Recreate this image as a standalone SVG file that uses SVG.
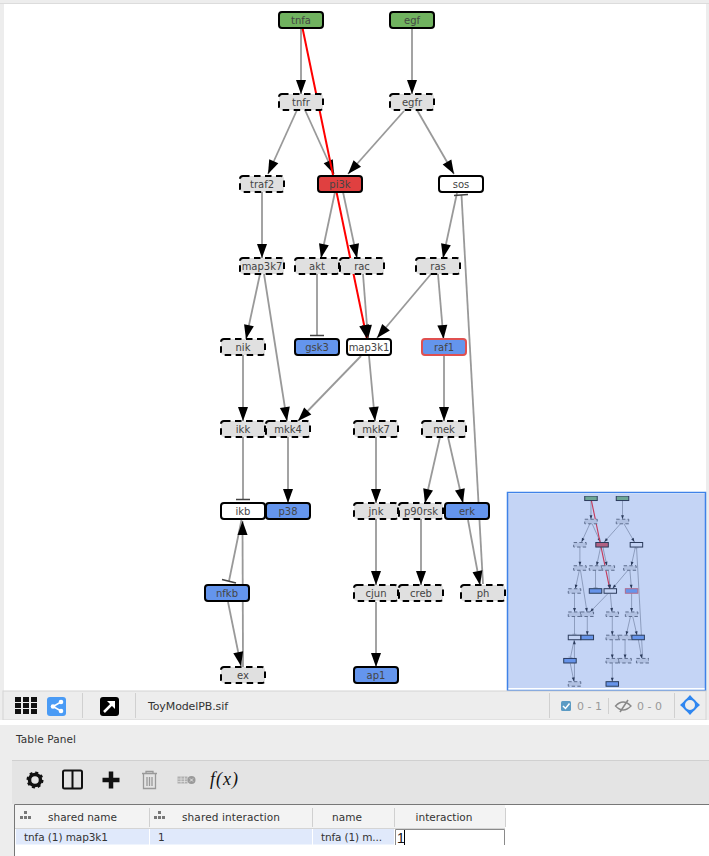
<svg xmlns="http://www.w3.org/2000/svg" xmlns:xlink="http://www.w3.org/1999/xlink" width="709" height="856" viewBox="0 0 709 856">
<style>
text{font-family:"DejaVu Sans","Liberation Sans",sans-serif}
.n{stroke:#000;stroke-width:2;}
.g{fill:#70b25f}.r{fill:#e04040}.b{fill:#6495ed}.w{fill:#fff}
.d{fill:#e0e0e0;stroke:#000;stroke-width:2;stroke-dasharray:6.500 4.500}
.rf{fill:#6495ed;stroke:#e05050;stroke-width:2}
.t{font-size:10px;fill:#444;text-anchor:middle}
.e{stroke:#999;stroke-width:var(--ew,1.800);fill:none}
.a{marker-end:url(#arr)}
.red{stroke:#f00;stroke-width:var(--rw,2);fill:none;marker-end:url(#arr)}
.bar{stroke:#444;stroke-width:1.500}
.ui{font-size:10.500px;fill:#333}
.c{text-anchor:middle}
.gr{font-size:11px;fill:#999}
.sep{stroke:#d0d0d0;stroke-width:1}
#mini .n,#mini .d,#mini .rf{stroke-width:3.500}
#mini .d{stroke-dasharray:12 8;stroke:#555}
</style>
<defs>
<marker id="arr" markerUnits="userSpaceOnUse" markerWidth="14" markerHeight="10" viewBox="0 0 14 10" refX="14" refY="5" orient="auto" overflow="visible"><path d="M0 0L14 5L0 10Z" fill="#000"/></marker>
<filter id="soft" x="0" y="0" width="1" height="1"><feGaussianBlur stdDeviation="0.3"/></filter>
</defs>
<rect width="709" height="856" fill="#ededed"/>
<rect x="4" y="4" width="702" height="687" fill="#fff"/>
<path d="M0 3.500H709" stroke="#dcdcdc"/>
<g id="connectors">
<path class="e a" d="M301 28V94"/>
<path class="e a" d="M412 28V94"/>
<path class="e a" d="M297 110L268 174"/>
<path class="e a" d="M305 110L334 174"/>
<path class="e a" d="M404 111L348 174"/>
<path class="e a" d="M417 110L454 174"/>
<path class="e a" d="M262 192V258"/>
<path class="e a" d="M335 192L321 258"/>
<path class="e a" d="M343 192L357 258"/>
<path class="e a" d="M457 193L443 258"/>
<path class="e" d="M483 584L461.500 195"/>
<path class="bar" d="M454 195.500L468 194.500"/>
<path class="e a" d="M260 274L246 339"/>
<path class="e a" d="M264 274L287 421"/>
<path class="e" d="M317 274V336"/>
<path class="bar" d="M310 335.500H324"/>
<path class="e a" d="M363 274L368 339"/>
<path class="e a" d="M431 274L377 338"/>
<path class="e a" d="M438 274L443.500 339"/>
<path class="e a" d="M243 355V421"/>
<path class="e a" d="M361 356L298 421"/>
<path class="e a" d="M369 356L375 421"/>
<path class="e a" d="M444 355V421"/>
<path class="e" d="M243 437V500"/>
<path class="bar" d="M236 499.500H250"/>
<path class="e a" d="M288 437V503"/>
<path class="e a" d="M376 437V503"/>
<path class="e a" d="M440 437L425 503"/>
<path class="e a" d="M448 437L463 503"/>
<path class="e a" d="M376 519V585"/>
<path class="e a" d="M421 519V585"/>
<path class="e a" d="M468 520L480 585"/>
<path class="e" d="M241.500 520L229 581"/>
<path class="bar" d="M222 579.500L236 583"/>
<path class="e a" d="M243 667L242.500 521"/>
<path class="e a" d="M228 602L241 666"/>
<path class="e a" d="M376 602V667"/>
<path class="red" d="M302.500 28L367 339"/>
</g>
<g id="node-tnfa"><rect class="n g" x="279" y="12" width="44" height="16" rx="3"/><text class="t" x="301" y="23.500">tnfa</text></g>
<g id="node-egf"><rect class="n g" x="390" y="12" width="44" height="16" rx="3"/><text class="t" x="412" y="23.500">egf</text></g>
<g id="node-tnfr"><rect class="d" x="279" y="94" width="44" height="16" rx="3"/><text class="t" x="301" y="105.500">tnfr</text></g>
<g id="node-egfr"><rect class="d" x="390" y="94" width="44" height="16" rx="3"/><text class="t" x="412" y="105.500">egfr</text></g>
<g id="node-traf2"><rect class="d" x="240" y="176" width="44" height="16" rx="3"/><text class="t" x="262" y="187.500">traf2</text></g>
<g id="node-pi3k"><rect class="n r" x="318" y="176" width="44" height="16" rx="3"/><text class="t" x="340" y="187.500">pi3k</text></g>
<g id="node-sos"><rect class="n w" x="439" y="176" width="44" height="16" rx="3"/><text class="t" x="461" y="187.500">sos</text></g>
<g id="node-map3k7"><rect class="d" x="240" y="258" width="44" height="16" rx="3"/><text class="t" x="262" y="269.500">map3k7</text></g>
<g id="node-akt"><rect class="d" x="295" y="258" width="44" height="16" rx="3"/><text class="t" x="317" y="269.500">akt</text></g>
<g id="node-rac"><rect class="d" x="340" y="258" width="44" height="16" rx="3"/><text class="t" x="362" y="269.500">rac</text></g>
<g id="node-ras"><rect class="d" x="416" y="258" width="44" height="16" rx="3"/><text class="t" x="438" y="269.500">ras</text></g>
<g id="node-nik"><rect class="d" x="221" y="339" width="44" height="16" rx="3"/><text class="t" x="243" y="350.500">nik</text></g>
<g id="node-gsk3"><rect class="n b" x="295" y="339" width="44" height="16" rx="3"/><text class="t" x="317" y="350.500">gsk3</text></g>
<g id="node-map3k1"><rect class="n w" x="347" y="339" width="44" height="16" rx="3"/><text class="t" x="369" y="350.500">map3k1</text></g>
<g id="node-raf1"><rect class="rf" x="422" y="339" width="44" height="16" rx="3"/><text class="t" x="444" y="350.500">raf1</text></g>
<g id="node-ikk"><rect class="d" x="221" y="421" width="44" height="16" rx="3"/><text class="t" x="243" y="432.500">ikk</text></g>
<g id="node-mkk4"><rect class="d" x="266" y="421" width="44" height="16" rx="3"/><text class="t" x="288" y="432.500">mkk4</text></g>
<g id="node-mkk7"><rect class="d" x="354" y="421" width="44" height="16" rx="3"/><text class="t" x="376" y="432.500">mkk7</text></g>
<g id="node-mek"><rect class="d" x="422" y="421" width="44" height="16" rx="3"/><text class="t" x="444" y="432.500">mek</text></g>
<g id="node-ikb"><rect class="n w" x="221" y="503" width="44" height="16" rx="3"/><text class="t" x="243" y="514.500">ikb</text></g>
<g id="node-p38"><rect class="n b" x="266" y="503" width="44" height="16" rx="3"/><text class="t" x="288" y="514.500">p38</text></g>
<g id="node-jnk"><rect class="d" x="354" y="503" width="44" height="16" rx="3"/><text class="t" x="376" y="514.500">jnk</text></g>
<g id="node-p90rsk"><rect class="d" x="399" y="503" width="44" height="16" rx="3"/><text class="t" x="421" y="514.500">p90rsk</text></g>
<g id="node-erk"><rect class="n b" x="445" y="503" width="44" height="16" rx="3"/><text class="t" x="467" y="514.500">erk</text></g>
<g id="node-nfkb"><rect class="n b" x="205" y="585" width="44" height="16" rx="3"/><text class="t" x="227" y="596.500">nfkb</text></g>
<g id="node-cjun"><rect class="d" x="354" y="585" width="44" height="16" rx="3"/><text class="t" x="376" y="596.500">cjun</text></g>
<g id="node-creb"><rect class="d" x="399" y="585" width="44" height="16" rx="3"/><text class="t" x="421" y="596.500">creb</text></g>
<g id="node-ph"><rect class="d" x="461" y="585" width="44" height="16" rx="3"/><text class="t" x="483" y="596.500">ph</text></g>
<g id="node-ex"><rect class="d" x="221" y="667" width="44" height="16" rx="3"/><text class="t" x="243" y="678.500">ex</text></g>
<g id="node-ap1"><rect class="n b" x="354" y="667" width="44" height="16" rx="3"/><text class="t" x="376" y="678.500">ap1</text></g>
<g id="minimap">
<rect x="507.500" y="492.500" width="198" height="198" fill="#fff"/>
<g id="mini" filter="url(#soft)" transform="translate(505.500 492.600) scale(.284 .2835)">
<use href="#connectors" style="--ew:3.200;--rw:4"/>
<rect class="n g" x="279" y="12" width="44" height="16"/><rect class="n g" x="390" y="12" width="44" height="16"/>
<rect class="d" x="279" y="94" width="44" height="16"/><rect class="d" x="390" y="94" width="44" height="16"/>
<rect class="d" x="240" y="176" width="44" height="16"/><rect class="n r" x="318" y="176" width="44" height="16"/><rect class="n w" x="439" y="176" width="44" height="16"/>
<rect class="d" x="240" y="258" width="44" height="16"/><rect class="d" x="295" y="258" width="44" height="16"/><rect class="d" x="340" y="258" width="44" height="16"/><rect class="d" x="416" y="258" width="44" height="16"/>
<rect class="d" x="221" y="339" width="44" height="16"/><rect class="n b" x="295" y="339" width="44" height="16"/><rect class="n w" x="347" y="339" width="44" height="16"/><rect class="rf" x="422" y="339" width="44" height="16"/>
<rect class="d" x="221" y="421" width="44" height="16"/><rect class="d" x="266" y="421" width="44" height="16"/><rect class="d" x="354" y="421" width="44" height="16"/><rect class="d" x="422" y="421" width="44" height="16"/>
<rect class="n w" x="221" y="503" width="44" height="16"/><rect class="n b" x="266" y="503" width="44" height="16"/><rect class="d" x="354" y="503" width="44" height="16"/><rect class="d" x="399" y="503" width="44" height="16"/><rect class="n b" x="445" y="503" width="44" height="16"/>
<rect class="n b" x="205" y="585" width="44" height="16"/><rect class="d" x="354" y="585" width="44" height="16"/><rect class="d" x="399" y="585" width="44" height="16"/><rect class="d" x="461" y="585" width="44" height="16"/>
<rect class="d" x="221" y="667" width="44" height="16"/><rect class="n b" x="354" y="667" width="44" height="16"/>
</g>
<rect x="508" y="494" width="197" height="194" fill="#6b93e6" opacity=".4"/>
<rect x="507.500" y="492.500" width="198" height="198" fill="none" stroke="#3f82e8" stroke-width="1.500"/>
</g>
<g id="toolbar">
<rect x="3" y="691" width="703" height="29" fill="#ededed" stroke="#d4d4d4"/>
<rect x="0" y="720" width="709" height="5" fill="#fff"/>
<path fill="#111" d="M15 697h6v5h-6zM23 697h6v5h-6zM31 697h6v5h-6zM15 703h6v5h-6zM23 703h6v5h-6zM31 703h6v5h-6zM15 709h6v5h-6zM23 709h6v5h-6zM31 709h6v5h-6z"/>
<rect x="47" y="697" width="19" height="19" rx="3" fill="#4a9bf5"/>
<path d="M61 702L53 706.500L61 711" stroke="#fff" stroke-width="1.500" fill="none"/>
<circle cx="61" cy="702" r="2.300" fill="#fff"/><circle cx="53" cy="706.500" r="2.300" fill="#fff"/><circle cx="61" cy="711" r="2.300" fill="#fff"/>
<path class="sep" d="M82.500 693V718M135.500 693V718M549.500 693V718M608.500 698V714M674.500 693V718"/>
<rect x="100" y="697" width="19" height="19" rx="3" fill="#000"/>
<path d="M104 712L113 703" stroke="#fff" stroke-width="2.500"/><path d="M107 701H115V709Z" fill="#fff"/>
<text x="148" y="710" font-size="11" fill="#333" textLength="80">ToyModelPB.sif</text>
<rect x="561" y="701" width="10" height="10" rx="1.500" fill="#5b9bc4"/>
<path d="M563 706L565.500 708.500L569.500 703.500" stroke="#fff" stroke-width="1.500" fill="none"/>
<text class="gr" x="577" y="709.500">0 - 1</text>
<path d="M615.500 706Q623 698 631 706Q623 714 615.500 706Z" fill="none" stroke="#888" stroke-width="1.300"/>
<path d="M620 712L628 700" stroke="#888" stroke-width="1.500"/>
<text class="gr" x="637" y="709.500">0 - 0</text>
<circle cx="690" cy="705" r="6" fill="none" stroke="#2f86f0" stroke-width="2"/>
<path fill="#2f86f0" d="M690 695l4.500 5h-9zM690 715l4.500 -5h-9zM680 705l5 4.500v-9zM700 705l-5 4.500v-9z"/>
</g>
<g id="table-panel">
<text class="ui" x="16" y="743" textLength="60">Table Panel</text>
<rect x="12" y="760" width="697" height="44" fill="#e4e4e4"/>
<path d="M12 760.500H709" stroke="#d0d0d0"/>
<circle cx="35" cy="780" r="5.500" fill="none" stroke="#111" stroke-width="3.500"/>
<circle cx="35" cy="780" r="7.500" fill="none" stroke="#111" stroke-width="2" stroke-dasharray="3 2.890"/>
<rect x="63" y="770.500" width="19" height="18" rx="1.500" fill="none" stroke="#111" stroke-width="2"/>
<path d="M72.500 770V789" stroke="#111" stroke-width="2"/>
<path d="M111 771.500V788.500M102.500 780H119.500" stroke="#111" stroke-width="4.500"/>
<path d="M142 773.500H157M146 773.500V771.500H153V773.500M143.500 774V788.500H155.500V774M147 777V786M149.500 777V786M152 777V786" fill="none" stroke="#999" stroke-width="1.300"/>
<rect x="177.500" y="776.500" width="10" height="7" fill="#b0b0b0"/>
<path d="M177.500 779H187.500M177.500 781.500H187.500M181 776.500V783.500M184.500 776.500V783.500" stroke="#e4e4e4" stroke-width=".7"/>
<circle cx="191.500" cy="780" r="4" fill="#9a9a9a"/>
<path d="M190 778.500L193 781.500M193 778.500L190 781.500" stroke="#e4e4e4"/>
<text x="210" y="785" font-size="18" font-style="italic" fill="#111" style="font-family:'Liberation Serif',serif" textLength="28">f(x)</text>
<rect x="14" y="804" width="695" height="52" fill="#fff"/>
<path d="M14.500 856V804.500H709" fill="none" stroke="#777"/>
<rect x="15" y="805" width="490" height="23" fill="#f3f3f3"/>
<path d="M15 828.500H505" stroke="#d4d4d4"/>
<path class="sep" d="M149.500 808V827M312.500 808V827M394.500 808V827M505.500 808V827"/>
<path fill="#777" d="M24 811h3v3h-3zM20 816h3v3h-3zM24 816h3v3h-3zM28 816h3v3h-3z"/>
<path fill="#777" d="M158 811h3v3h-3zM154 816h3v3h-3zM158 816h3v3h-3zM162 816h3v3h-3z"/>
<text class="ui" x="48" y="821" textLength="69">shared name</text>
<text class="ui" x="182" y="821" textLength="98">shared interaction</text>
<text class="ui c" x="347" y="821">name</text>
<text class="ui c" x="444" y="821">interaction</text>
<rect x="16" y="829" width="133" height="15.500" fill="#e0e9fb"/>
<rect x="150" y="829" width="162" height="15.500" fill="#e0e9fb"/>
<rect x="313" y="829" width="81" height="15.500" fill="#e0e9fb"/>
<text class="ui" x="24" y="841" textLength="84">tnfa (1) map3k1</text>
<text class="ui" x="158" y="841">1</text>
<text class="ui" x="321" y="841" textLength="61">tnfa (1) m...</text>
<path d="M395.500 845V829.500H504.500V845" fill="#fff" stroke="#8a8a8a"/>
<text x="397" y="843" font-size="14" fill="#111" style="font-family:'Liberation Sans',sans-serif">1</text>
<path d="M404.500 830V845" stroke="#000"/>
</g>
</svg>
